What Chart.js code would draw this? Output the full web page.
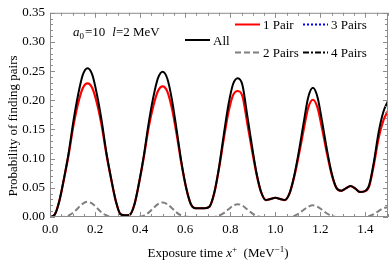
<!DOCTYPE html>
<html>
<head>
<meta charset="utf-8">
<script src="https://cdn.jsdelivr.net/npm/chart.js@4/dist/chart.umd.min.js"></script>
<style>
  html, body { margin: 0; padding: 0; background: #fff; }
  #wrap { width: 390px; height: 261px; }
</style>
</head>
<body>
<div id="wrap"><canvas id="myChart" width="390" height="261"></canvas></div>
<script>
// exposure time x+ (MeV^-1), sample grid
const times = [0, 0.0208, 0.0417, 0.0625, 0.0833, 0.1042, 0.125, 0.1458, 0.1667, 0.1875, 0.2083, 0.2292,
  0.25, 0.2708, 0.2917, 0.3125, 0.3333, 0.3542, 0.375, 0.3958, 0.4167, 0.4375, 0.4583, 0.4792,
  0.5, 0.5208, 0.5417, 0.5625, 0.5833, 0.6042, 0.625, 0.6458, 0.6667, 0.6875, 0.7083, 0.7292,
  0.75, 0.7708, 0.7917, 0.8125, 0.8333, 0.8542, 0.875, 0.8958, 0.9167, 0.9375, 0.9583, 0.9792,
  1.0, 1.0208, 1.0417, 1.0625, 1.0833, 1.1042, 1.125, 1.1458, 1.1667, 1.1875, 1.2083, 1.2292,
  1.25, 1.2708, 1.2917, 1.3125, 1.3333, 1.3542, 1.375, 1.3958, 1.4167, 1.4375, 1.4583, 1.4792, 1.5];

const allPairs = [0.000, 0.004, 0.028, 0.067, 0.111, 0.165, 0.210, 0.244, 0.255, 0.244, 0.210, 0.165,
  0.111, 0.067, 0.028, 0.005, 0.003, 0.004, 0.022, 0.060, 0.106, 0.160, 0.205, 0.238,
  0.249, 0.237, 0.200, 0.148, 0.094, 0.050, 0.022, 0.015, 0.015, 0.015, 0.018, 0.042,
  0.085, 0.140, 0.192, 0.228, 0.238, 0.226, 0.175, 0.123, 0.075, 0.042, 0.029, 0.031,
  0.033, 0.031, 0.029, 0.040, 0.070, 0.112, 0.160, 0.205, 0.2215, 0.205, 0.162, 0.115,
  0.075, 0.050, 0.045, 0.049, 0.053, 0.049, 0.043, 0.044, 0.055, 0.095, 0.145, 0.180, 0.199];

const onePair = [0.000, 0.004, 0.028, 0.066, 0.108, 0.157, 0.195, 0.221, 0.229, 0.221, 0.195, 0.157,
  0.108, 0.066, 0.028, 0.005, 0.003, 0.004, 0.022, 0.059, 0.103, 0.153, 0.190, 0.216,
  0.224, 0.215, 0.185, 0.141, 0.091, 0.050, 0.022, 0.015, 0.015, 0.015, 0.018, 0.041,
  0.083, 0.133, 0.179, 0.209, 0.216, 0.207, 0.162, 0.116, 0.073, 0.042, 0.029, 0.031,
  0.033, 0.031, 0.029, 0.040, 0.068, 0.106, 0.148, 0.187, 0.201, 0.187, 0.150, 0.109,
  0.073, 0.050, 0.045, 0.049, 0.053, 0.049, 0.043, 0.044, 0.053, 0.090, 0.135, 0.165, 0.182];

const twoPairs = [0, 0, 0, 0.0003, 0.0026, 0.0078, 0.0156, 0.0229, 0.026, 0.0229, 0.0156, 0.0078,
  0.0026, 0.0003, 0, 0, 0, 0, 0, 0.0003, 0.0025, 0.0075, 0.015, 0.022,
  0.025, 0.022, 0.015, 0.0075, 0.0025, 0.0003, 0, 0, 0, 0, 0, 0.0002,
  0.0022, 0.0066, 0.0132, 0.0194, 0.022, 0.0194, 0.0132, 0.0066, 0.0022, 0.0002, 0, 0,
  0, 0, 0, 0.0002, 0.002, 0.006, 0.012, 0.0176, 0.020, 0.0176, 0.012, 0.006,
  0.002, 0.0002, 0, 0, 0, 0, 0, 0.0002, 0.0017, 0.0051, 0.0102, 0.015, 0.017];

// 3 and 4 pairs stay at zero on this scale
const threePairsTimes = [0, 0.1667, 0.5, 0.8333, 1.1667, 1.5];
const threePairs = [0, 0.0005, 0.0005, 0.0004, 0.0004, 0.0003];
const fourPairsTimes = [0, 1.5];
const fourPairs = [0, 0];

const xTicks = [0, 0.2, 0.4, 0.6, 0.8, 1.0, 1.2, 1.4];

const serif = '"Liberation Serif", "Times New Roman", serif';

function pts(xs, ys) {
  return xs.map((x, i) => ({ x: x, y: ys[i] }));
}

// frame with inward major/minor ticks on all four sides
const framePlugin = {
  id: 'frame',
  afterDatasetsDraw(chart) {
    const { ctx, chartArea: a, scales } = chart;
    const xs = scales.x, ys = scales.y;
    ctx.save();
    ctx.strokeStyle = '#8c8c8c';
    ctx.lineWidth = 1;
    ctx.strokeRect(a.left + 0.5, a.top + 0.5, a.right - a.left - 1, a.bottom - a.top - 1);
    ctx.beginPath();
    for (let k = 0; k <= 30; k++) {
      const v = k * 0.05;
      const px = Math.round(xs.getPixelForValue(v)) + 0.5;
      const len = k % 4 === 0 ? 5 : 3;
      ctx.moveTo(px, a.bottom); ctx.lineTo(px, a.bottom - len);
      ctx.moveTo(px, a.top); ctx.lineTo(px, a.top + len);
    }
    for (let k = 0; k <= 35; k++) {
      const v = k * 0.01;
      const py = Math.round(ys.getPixelForValue(v)) + 0.5;
      const len = k % 5 === 0 ? 5 : 3;
      ctx.moveTo(a.left, py); ctx.lineTo(a.left + len, py);
      ctx.moveTo(a.right, py); ctx.lineTo(a.right - len, py);
    }
    ctx.stroke();
    ctx.restore();
  }
};

// legend, annotation and axis titles
const textPlugin = {
  id: 'texts',
  afterDraw(chart) {
    const ctx = chart.ctx;
    ctx.save();
    ctx.fillStyle = '#000';
    ctx.textBaseline = 'alphabetic';

    function sample(x1, x2, y, color, dash, width) {
      ctx.save();
      ctx.strokeStyle = color;
      ctx.lineWidth = width;
      ctx.setLineDash(dash);
      ctx.beginPath();
      ctx.moveTo(x1, y); ctx.lineTo(x2, y);
      ctx.stroke();
      ctx.restore();
    }
    ctx.font = '13px ' + serif;
    sample(235, 260, 24.5, '#ff0000', [], 2);
    ctx.fillText('1 Pair', 263, 29);
    sample(303, 328, 24.5, '#0000ff', [2, 2], 2);
    ctx.fillText('3 Pairs', 331, 29);
    sample(235, 259, 52.5, '#808080', [6, 3], 2);
    ctx.fillText('2 Pairs', 263, 57);
    sample(303, 328, 52.5, '#000000', [6, 2, 2, 2], 2);
    ctx.fillText('4 Pairs', 331, 57);
    sample(185, 210, 40, '#000000', [], 2);
    ctx.fillText('All', 213, 45);

    // a0=10  l=2 MeV
    let x = 73;
    const base = 36;
    ctx.font = 'italic 13px ' + serif;
    ctx.fillText('a', x, base); x += ctx.measureText('a').width;
    ctx.font = '9px ' + serif;
    ctx.fillText('0', x, base + 3); x += ctx.measureText('0').width + 1;
    ctx.font = '13px ' + serif;
    ctx.fillText('=10', x, base); x += ctx.measureText('=10').width + 7;
    ctx.font = 'italic 13px ' + serif;
    ctx.fillText('l', x, base); x += ctx.measureText('l').width;
    ctx.font = '13px ' + serif;
    ctx.fillText('=2 MeV', x, base);

    // x title
    const parts = [
      ['Exposure time ', '13px ', 0],
      ['x', 'italic 13px ', 0],
      ['+', '9px ', -5],
      ['  (MeV', '13px ', 0],
      ['\u22121', '9px ', -5],
      [')', '13px ', 0]
    ];
    let w = 0;
    parts.forEach(p => { ctx.font = p[1] + serif; w += ctx.measureText(p[0]).width; });
    x = 218 - w / 2;
    parts.forEach(p => {
      ctx.font = p[1] + serif;
      ctx.fillText(p[0], x, 257 + p[2]);
      x += ctx.measureText(p[0]).width;
    });

    // y title
    ctx.translate(17, 126);
    ctx.rotate(-Math.PI / 2);
    ctx.font = '13px ' + serif;
    ctx.textAlign = 'center';
    ctx.fillText('Probability of finding pairs', 0, 0);
    ctx.restore();
  }
};

const ctx = document.getElementById('myChart').getContext('2d');
const myChart = new Chart(ctx, {
  type: 'line',
  data: {
    datasets: [
      {
        label: 'All',
        data: pts(times, allPairs),
        borderColor: '#000000',
        borderWidth: 2,
      },
      {
        label: '1 Pair',
        data: pts(times, onePair),
        borderColor: '#ff0000',
        borderWidth: 2.2,
      },
      {
        label: '2 Pairs',
        data: pts(times, twoPairs),
        borderColor: '#808080',
        borderWidth: 2,
        borderDash: [6, 3],
      },
      {
        label: '4 Pairs',
        data: pts(fourPairsTimes, fourPairs),
        borderColor: '#000000',
        borderWidth: 1.5,
        borderDash: [6, 2, 2, 2],
      },
      {
        label: '3 Pairs',
        data: pts(threePairsTimes, threePairs),
        borderColor: '#0000ff',
        borderWidth: 1.5,
        borderDash: [2, 2],
      },
    ],
  },
  options: {
    responsive: false,
    animation: false,
    layout: { padding: { top: 8, right: 2, left: 0, bottom: 0 } },
    elements: {
      point: { radius: 0 },
      line: { cubicInterpolationMode: 'monotone', fill: false },
    },
    plugins: {
      legend: { display: false },
      tooltip: { enabled: false },
    },
    scales: {
      x: {
        type: 'linear',
        min: 0,
        max: 1.5,
        grid: { display: false, drawTicks: false },
        border: { display: false },
        afterBuildTicks: (s) => { s.ticks = xTicks.map(v => ({ value: v })); },
        afterFit: (s) => { s.height = 44; },
        ticks: {
          padding: 5,
          color: '#000',
          font: { family: serif, size: 13 },
          callback: (v) => Number(v).toFixed(1),
        },
      },
      y: {
        min: 0,
        max: 0.35,
        grid: { display: false, drawTicks: false },
        border: { display: false },
        afterFit: (s) => { s.width = 50; },
        ticks: {
          stepSize: 0.05,
          padding: 5,
          color: '#000',
          font: { family: serif, size: 13 },
          callback: (v) => Number(v).toFixed(2),
        },
      },
    },
  },
  plugins: [framePlugin, textPlugin],
});
</script>
</body>
</html>
